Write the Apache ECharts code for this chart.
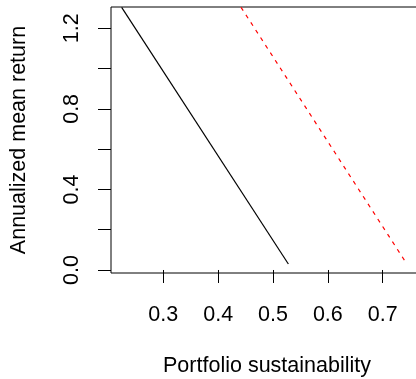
<!DOCTYPE html>
<html>
<head>
<meta charset="utf-8">
<script src="https://cdn.jsdelivr.net/npm/echarts@6/dist/echarts.min.js"></script>
<style>
  html, body { margin: 0; padding: 0; background: #fff; }
  #chart { width: 416px; height: 379px; }
</style>
</head>
<body>
<div id="chart"></div>
<script>
// line endpoints (x = sustainability, y = mean return)
const blackX = [0.2241, 0.528];
const blackY = [1.3043, 0.03];
const redX = [0.4417, 0.744];
const redY = [1.3043, 0.03];

const xTicks = [0.3, 0.4, 0.5, 0.6, 0.7];
const yTicks = [0, 0.2, 0.4, 0.6, 0.8, 1.0, 1.2];
const yLabels = [0, 0.4, 0.8, 1.2];

const FONT = "Liberation Sans, Arial, sans-serif";
const FS = 21.5;

const pairs = (xs, ys) => xs.map((x, i) => [x, ys[i]]);

const chart = echarts.init(document.getElementById("chart"), null, { renderer: "canvas" });

chart.setOption({
  animation: false,
  backgroundColor: "#ffffff",
  grid: {
    show: true,
    left: 111, top: 7, width: 312, height: 266,
    containLabel: false,
    outerBoundsMode: "none",
    borderColor: "#000", borderWidth: 1,
    backgroundColor: "transparent"
  },
  xAxis: {
    type: "value",
    min: 0.20465, max: 0.77347,
    name: "Portfolio sustainability",
    nameLocation: "middle",
    nameGap: 82,
    nameTextStyle: { fontFamily: FONT, fontSize: FS, color: "#000" },
    axisLine: { show: false },
    splitLine: { show: false },
    axisTick: { show: true, length: 13, lineStyle: { color: "#000", width: 1 }, customValues: xTicks },
    axisLabel: {
      margin: 31, fontFamily: FONT, fontSize: FS, color: "#000",
      customValues: xTicks,
      formatter: (v) => v.toFixed(1)
    }
  },
  yAxis: {
    type: "value",
    min: -0.0149, max: 1.3058,
    name: "Annualized mean return",
    nameLocation: "middle",
    nameGap: 81,
    nameRotate: 90,
    nameTextStyle: { fontFamily: FONT, fontSize: FS, color: "#000" },
    axisLine: { show: false },
    splitLine: { show: false },
    axisTick: { show: true, length: 13, lineStyle: { color: "#000", width: 1 }, customValues: yTicks },
    axisLabel: {
      rotate: 90, margin: 28, fontFamily: FONT, fontSize: FS, color: "#000",
      customValues: yLabels,
      formatter: (v) => v.toFixed(1)
    }
  },
  series: [
    {
      type: "line",
      data: pairs(blackX, blackY),
      showSymbol: false,
      clip: true,
      lineStyle: { color: "#000", width: 1.2 }
    },
    {
      type: "line",
      data: pairs(redX, redY),
      showSymbol: false,
      clip: true,
      lineStyle: { color: "#ff0000", width: 1.2, type: [4, 5] }
    }
  ]
});
</script>
</body>
</html>
